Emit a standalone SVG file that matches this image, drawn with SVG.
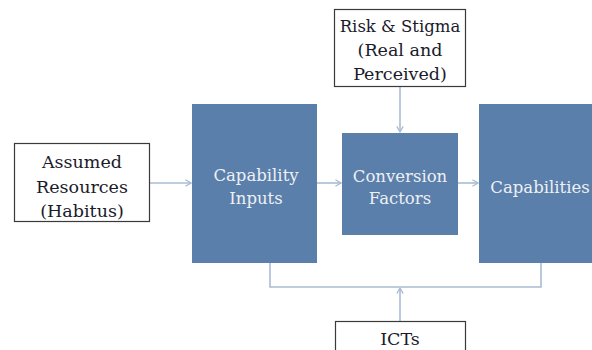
<svg xmlns="http://www.w3.org/2000/svg" width="592" height="350" viewBox="0 0 592 350">
<style>
.wbox{fill:#fff;stroke:#3a3a3a;stroke-width:1.2}
.bbox{fill:#5b7fab}
text{font-family:'DejaVu Serif',serif;text-anchor:middle}
.dt{font-size:17.5px;fill:#1a1a2a}
.lt{font-size:16.5px;fill:#eef0f4}
.conn{stroke:#a9bcd4;stroke-width:1.6;fill:none}
</style>
<defs>
<marker id="ah" viewBox="0 0 10 10" refX="9" refY="5" markerWidth="8" markerHeight="8" markerUnits="userSpaceOnUse" orient="auto">
<polyline points="2,1 9,5 2,9" fill="none" stroke="#a9bcd4" stroke-width="1.6"/>
</marker>
</defs>
<g id="connectors">
<line class="conn" x1="150" y1="183" x2="191" y2="183" marker-end="url(#ah)"/>
<line class="conn" x1="317" y1="183" x2="341" y2="183" marker-end="url(#ah)"/>
<line class="conn" x1="458" y1="183" x2="478" y2="183" marker-end="url(#ah)"/>
<line class="conn" x1="400" y1="87" x2="400" y2="132" marker-end="url(#ah)"/>
<polyline class="conn" points="270,263 270,287 541,287 541,263"/>
<line class="conn" x1="400" y1="321" x2="400" y2="288" marker-end="url(#ah)"/>
</g>
<g id="assumed">
<rect class="wbox" x="14.5" y="143.5" width="135" height="78"/>
<text class="dt" x="82" y="168">Assumed</text>
<text class="dt" x="82" y="193">Resources</text>
<text class="dt" x="82" y="217">(Habitus)</text>
</g>
<g id="risk">
<rect class="wbox" x="334.5" y="9.5" width="131" height="77"/>
<text class="dt" x="400" y="32" style="font-size:16.5px">Risk &amp; Stigma</text>
<text class="dt" x="400" y="56">(Real and</text>
<text class="dt" x="400" y="80">Perceived)</text>
</g>
<g id="capinputs">
<rect class="bbox" x="192" y="104" width="125" height="159"/>
<text class="lt" x="256" y="181">Capability</text>
<text class="lt" x="256" y="204">Inputs</text>
</g>
<g id="conversion">
<rect class="bbox" x="342" y="133" width="116" height="102"/>
<text class="lt" x="400" y="182">Conversion</text>
<text class="lt" x="400" y="204">Factors</text>
</g>
<g id="capabilities">
<rect class="bbox" x="479" y="104" width="113" height="159"/>
<text class="lt" x="540" y="193">Capabilities</text>
</g>
<g id="icts">
<rect class="wbox" x="335.5" y="321.5" width="130" height="40"/>
<text class="dt" x="400" y="345">ICTs</text>
</g>
</svg>
